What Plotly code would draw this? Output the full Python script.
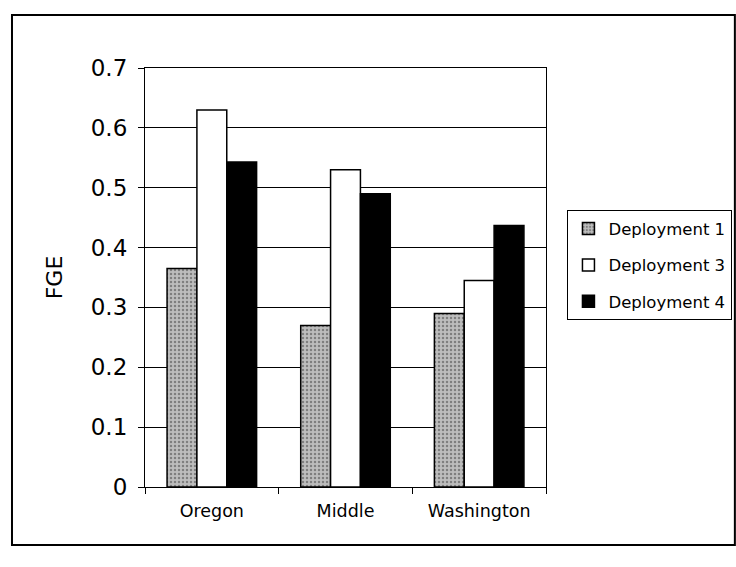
import plotly.graph_objects as go

categories = ["Oregon", "Middle", "Washington"]
series_names = ["Deployment 1", "Deployment 3", "Deployment 4"]
dep1 = [0.365, 0.27, 0.29]
dep3 = [0.63, 0.53, 0.345]
dep4 = [0.543, 0.49, 0.437]
y_ticks = [0, 0.1, 0.2, 0.3, 0.4, 0.5, 0.6, 0.7]
y_tick_labels = ["0", "0.1", "0.2", "0.3", "0.4", "0.5", "0.6", "0.7"]

FONT = "DejaVu Sans, Arial, sans-serif"

fig = go.Figure()
fig.add_trace(go.Bar(
    x=categories, y=dep1, name=series_names[0], legendgroup="a",
    marker=dict(color="#b8b8b8", line=dict(color="black", width=1.5),
                pattern=dict(shape=".", fgcolor="#404040", bgcolor="#bdbdbd",
                             size=4, solidity=0.3)),
))
fig.add_trace(go.Bar(
    x=categories, y=dep3, name=series_names[1], legendgroup="b",
    marker=dict(color="white", line=dict(color="black", width=1.5)),
))
fig.add_trace(go.Bar(
    x=categories, y=dep4, name=series_names[2], legendgroup="c",
    marker=dict(color="black", line=dict(color="black", width=1.5)),
))

fig.update_layout(
    width=736, height=567,
    margin=dict(l=145, r=190, t=68, b=80, autoexpand=False),
    paper_bgcolor="white", plot_bgcolor="white",
    barmode="group", bargap=0.33, bargroupgap=0,
    font=dict(family=FONT, color="black"),
    showlegend=True,
    legend=dict(
        x=1.053, y=0.661, xanchor="left", yanchor="top",
        bordercolor="black", borderwidth=1.2, bgcolor="white",
        font=dict(size=16.5, family=FONT), tracegroupgap=12,
        itemwidth=30,
    ),
    xaxis=dict(
        showline=True, linecolor="black", linewidth=1.2, mirror=True,
        ticks="outside", tickson="boundaries", ticklen=6, tickcolor="black",
        tickfont=dict(size=17.5, family=FONT), ticklabelstandoff=8,
        showgrid=False,
    ),
    yaxis=dict(
        range=[0, 0.7], tickvals=y_ticks, ticktext=y_tick_labels,
        showline=True, linecolor="black", linewidth=1.2, mirror=True,
        ticks="outside", ticklen=6, tickcolor="black",
        tickfont=dict(size=23, family=FONT), ticklabelstandoff=6,
        showgrid=True, gridcolor="black", gridwidth=1,
        zeroline=False,
        title=dict(text="FGE", font=dict(size=22, family=FONT), standoff=22),
    ),
    shapes=[dict(type="rect", xref="paper", yref="paper",
                 x0=-0.3317, x1=1.471, y0=-0.1384, y1=1.1265,
                 line=dict(color="black", width=2))],
)

fig.write_html("out.html", config={"displayModeBar": False},
               post_script="document.body.style.margin='0px';")
